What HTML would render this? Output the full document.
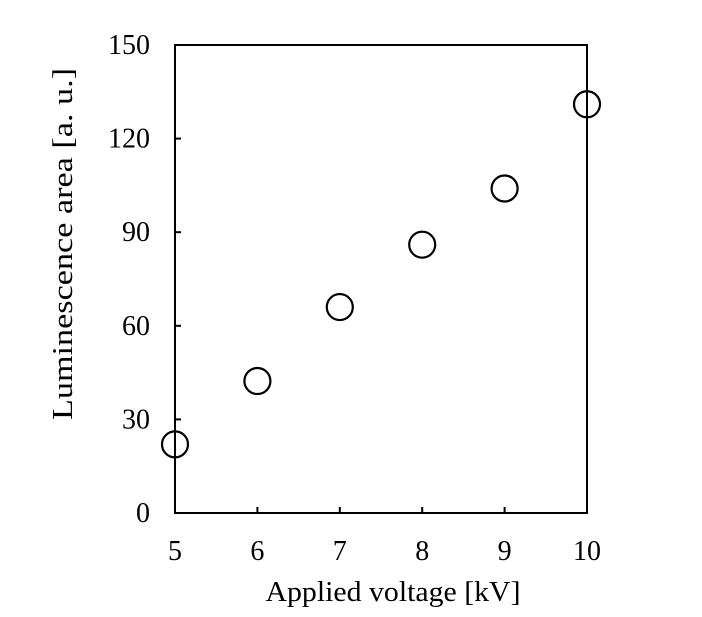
<!DOCTYPE html>
<html><head><meta charset="utf-8"><style>
html,body{margin:0;padding:0;background:#fff;}
svg{display:block;font-family:"Liberation Serif",serif;}
</style></head><body>
<svg id="chart" width="702" height="617" viewBox="0 0 702 617" xmlns="http://www.w3.org/2000/svg"></svg>
<script>
const xValues = [5, 6, 7, 8, 9, 10];
const yValues = [22, 42.3, 66, 86, 104, 131];
const xTicks = [5, 6, 7, 8, 9, 10];
const yTicks = [0, 30, 60, 90, 120, 150];

const L = 175, R = 587, T = 45, B = 513;
const xMin = 5, xMax = 10, yMin = 0, yMax = 150;
function sx(v){ return L + (v - xMin) / (xMax - xMin) * (R - L); }
function sy(v){ return B - (v - yMin) / (yMax - yMin) * (B - T); }
const svg = document.getElementById('chart');
const NS = 'http://www.w3.org/2000/svg';
function mk(tag, attrs, parent){
  const e = document.createElementNS(NS, tag);
  for (const k in attrs) e.setAttribute(k, attrs[k]);
  (parent || svg).appendChild(e);
  return e;
}
const frame = mk('rect', {x:L, y:T, width:R-L, height:B-T, fill:'none', stroke:'#000', 'stroke-width':2});



yTicks.forEach(v => {
  const y = sy(v);
  const t = mk('line', {x1:L, x2:L+6, y1:y, y2:y, stroke:'#000', 'stroke-width':2});
  
  
  const lb = mk('text', {x:150, y:y+9, 'text-anchor':'end', 'font-size':28, fill:'#000'});
  lb.textContent = v;
  
  
});
xTicks.forEach(v => {
  const x = sx(v);
  const t = mk('line', {x1:x, x2:x, y1:B, y2:B-6, stroke:'#000', 'stroke-width':2});
  
  
  const lb = mk('text', {x:x, y:B+47, 'text-anchor':'middle', 'font-size':28, fill:'#000'});
  lb.textContent = v;
  
  
});
xValues.forEach((xv, i) => {
  const c = mk('circle', {cx:sx(xv), cy:sy(yValues[i]), r:13, fill:'none', stroke:'#000', 'stroke-width':2.2});
  
  
});
const xt = mk('text', {x:393, y:601, 'text-anchor':'middle', 'font-size':29, fill:'#000', textLength:255, lengthAdjust:'spacingAndGlyphs'});
xt.textContent = 'Applied voltage [kV]';


const yt = mk('text', {x:0, y:0, 'text-anchor':'middle', 'font-size':29, fill:'#000', textLength:352, lengthAdjust:'spacingAndGlyphs', transform:'translate(72,244) rotate(-90)'});
yt.textContent = 'Luminescence area [a. u.]';


</script>
</body></html>
